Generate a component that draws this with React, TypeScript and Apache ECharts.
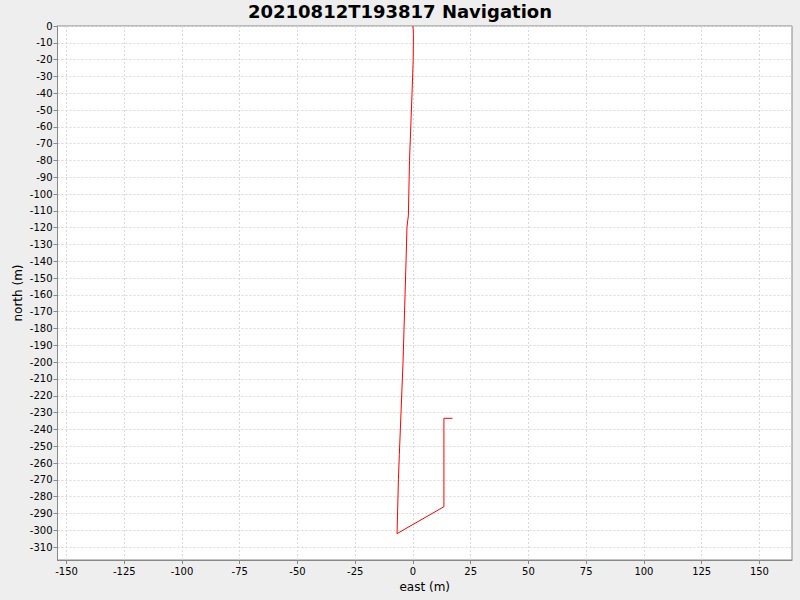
import React, { useEffect, useRef } from "react";
import * as echarts from "echarts";

const titleText = "20210812T193817 Navigation";
const eastValues = [0, 0.2, 0.1, -0.4, -1.5, -2.0, -2.3, -2.6, -3.0, -4.3, -5.9, -6.3, -6.9, 13.4, 13.4, 17.1];
const northValues = [0, -5, -20, -40, -80, -113, -116, -120, -140, -200, -255, -270, -302, -286, -233.4, -233.4];
const xTicks = [-150, -125, -100, -75, -50, -25, 0, 25, 50, 75, 100, 125, 150];
const yTicks = [0, -10, -20, -30, -40, -50, -60, -70, -80, -90, -100, -110, -120, -130, -140, -150, -160, -170, -180, -190, -200, -210, -220, -230, -240, -250, -260, -270, -280, -290, -300, -310];

export default function App() {
  const ref = useRef<HTMLDivElement>(null);
  useEffect(() => {
    const chart = echarts.init(ref.current!, null, { renderer: "svg" });
    const font = "'DejaVu Sans', sans-serif";
    const axisCommon = {
      axisLine: { show: true, onZero: false, lineStyle: { color: "#888888", width: 1 } },
      axisTick: { show: true, length: 4, inside: false, lineStyle: { color: "#888888" } },
      splitLine: { show: true, lineStyle: { color: "#d9d9d9", type: [2, 2], width: 1 } },
      nameLocation: "middle" as const,
      nameMoveOverlap: false,
      nameTextStyle: { fontFamily: font, fontSize: 12, color: "#000" },
    };
    chart.setOption({
      animation: false,
      backgroundColor: "#eeeeee",
      title: {
        text: titleText,
        left: "center",
        top: -3,
        textStyle: { fontFamily: font, fontSize: 18, fontWeight: "bold", color: "#000" },
      },
      grid: {
        left: 57.5,
        top: 26,
        right: 8,
        bottom: 40,
        containLabel: false,
        outerBoundsMode: "none",
        show: true,
        backgroundColor: "#ffffff",
        borderColor: "#888888",
        borderWidth: 1,
      },
      xAxis: {
        type: "value",
        min: -153.9,
        max: 164.1,
        name: "east (m)",
        nameGap: 21,
        ...axisCommon,
        axisTick: { ...axisCommon.axisTick, customValues: xTicks },
        axisLabel: { customValues: xTicks, fontFamily: font, fontSize: 10, color: "#000", margin: 6, showMinLabel: true, showMaxLabel: true },
      },
      yAxis: {
        type: "value",
        min: -317.7,
        max: 0,
        name: "north (m)",
        nameGap: 34,
        ...axisCommon,
        axisTick: { ...axisCommon.axisTick, customValues: yTicks },
        axisLabel: { customValues: yTicks, fontFamily: font, fontSize: 10, color: "#000", margin: 5 },
      },
      series: [
        {
          type: "line",
          data: eastValues.map((e, i) => [e, northValues[i]]),
          symbol: "none",
          lineStyle: { color: "#ff0000", width: 1 },
          itemStyle: { color: "#ff0000" },
        },
      ],
    });
    return () => chart.dispose();
  }, []);
  return <div ref={ref} style={{ position: "fixed", left: 0, top: 0, width: 800, height: 600 }} />;
}
